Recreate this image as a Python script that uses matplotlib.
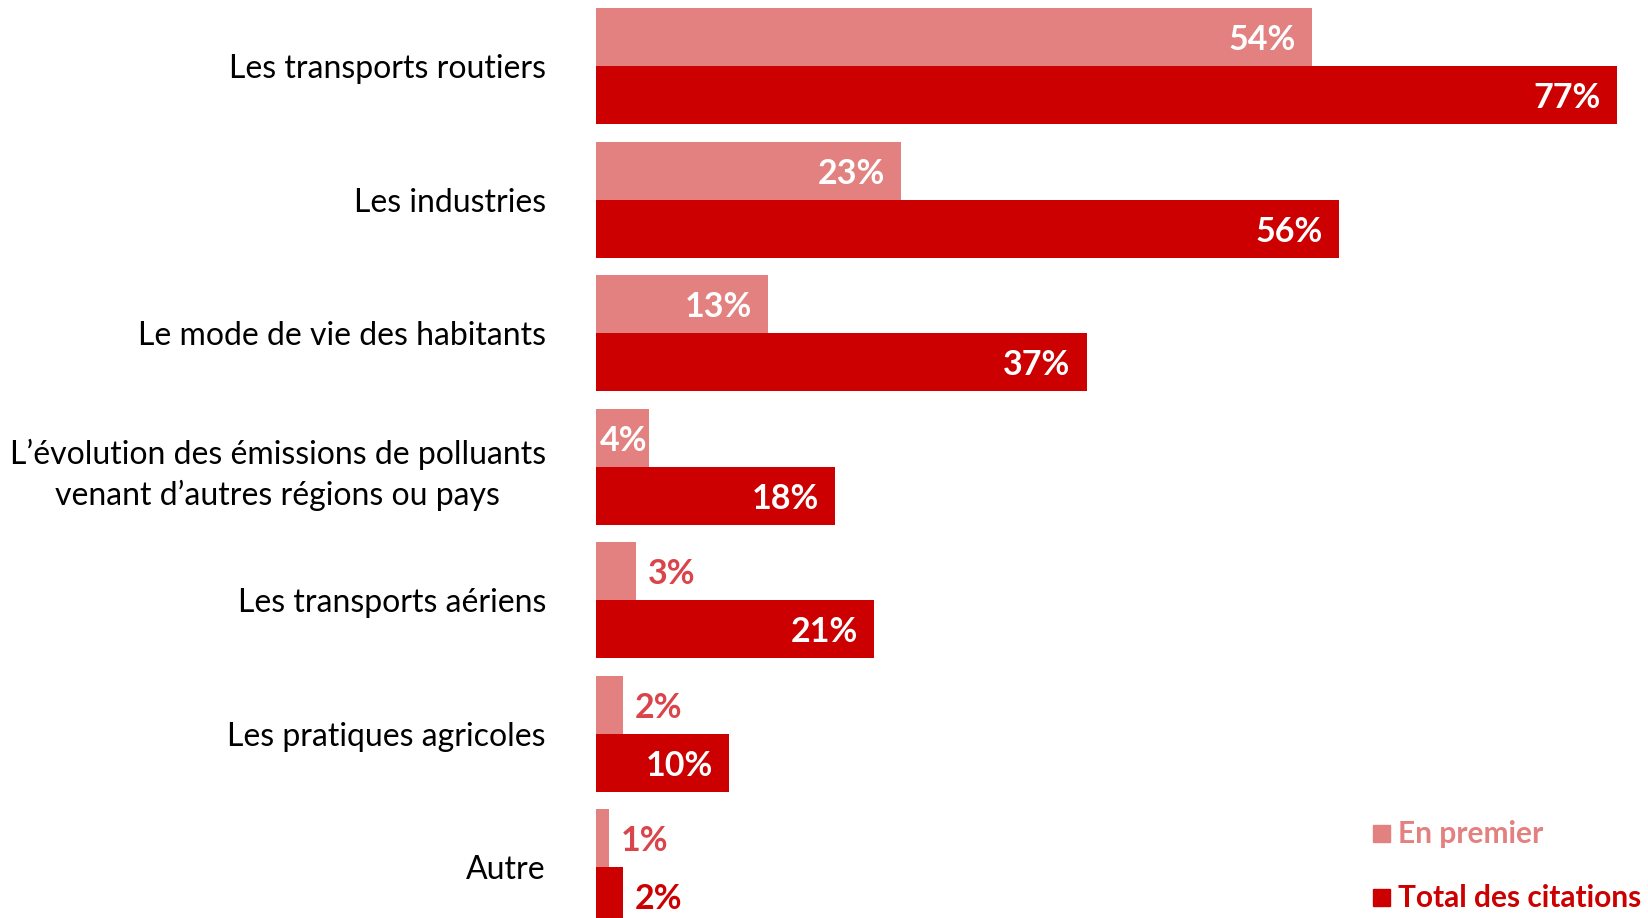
import matplotlib.pyplot as plt
from matplotlib.patches import Rectangle
from matplotlib.transforms import offset_copy

# data
categories = [
    "Les transports routiers",
    "Les industries",
    "Le mode de vie des habitants",
    "L\u2019\u00e9volution des \u00e9missions de polluants\nvenant d\u2019autres r\u00e9gions ou pays",
    "Les transports a\u00e9riens",
    "Les pratiques agricoles",
    "Autre",
]
en_premier = [54, 23, 13, 4, 3, 2, 1]
total_citations = [77, 56, 37, 18, 21, 10, 2]
series_names = ["En premier", "Total des citations"]

LIGHT = "#E38080"
DARK = "#CC0000"
LIGHT_TXT = "#D9454A"

plt.rcParams['font.family'] = ['Lato', 'DejaVu Sans']

W, H = 1649, 918
fig = plt.figure(figsize=(W / 100, H / 100), dpi=100)

x0 = 596          # left edge of the bars in pixels
px_per_pct = 13.26
group_px = 133.5
bar_px = 58
first_center = 66.4

ax = fig.add_axes([x0 / W, 0, 1 - x0 / W, 1])
ax.set_xlim(0, (W - x0) / px_per_pct)
y_top = -first_center / group_px
y_bot = (H - first_center) / group_px
ax.set_ylim(y_bot, y_top)

h = bar_px / group_px
idx = list(range(len(categories)))
ax.barh([i - h / 2 for i in idx], en_premier, height=h, color=LIGHT, linewidth=0)
ax.barh([i + h / 2 for i in idx], total_citations, height=h, color=DARK, linewidth=0)

# value labels, nudged down a little to sit like the original
tr = offset_copy(ax.transData, fig=fig, x=0, y=-3, units='dots')
pad = 16 / px_per_pct
for i in idx:
    for v, yy, col in ((en_premier[i], i - h / 2, LIGHT_TXT), (total_citations[i], i + h / 2, DARK)):
        lab = f"{v}%"
        if v >= 8:
            ax.text(v - pad, yy, lab, ha='right', va='center', color='white',
                    fontsize=24.5, fontweight='bold', transform=tr)
        elif v >= 4:
            ax.text(4 / px_per_pct, yy, lab, ha='left', va='center', color='white',
                    fontsize=24.5, fontweight='bold', transform=tr)
        else:
            ax.text(v + 12 / px_per_pct, yy, lab, ha='left', va='center', color=col,
                    fontsize=24.5, fontweight='bold', transform=tr)

ax.set_yticks(idx)
ax.set_yticklabels(categories, fontsize=23, color='black', ha='right',
                   multialignment='center', linespacing=1.4)
ax.tick_params(axis='y', length=0, pad=36)
ax.set_xticks([])
for s in ax.spines.values():
    s.set_visible(False)

# legend
for k, (name, col) in enumerate(zip(series_names, [LIGHT, DARK])):
    yc = H - (834 + 64 * k)
    fig.patches.append(Rectangle((1373 / W, (yc - 8) / H), 17 / W, 17 / H,
                                 transform=fig.transFigure, color=col))
    fig.text(1398 / W, yc / H, name, color=col, fontsize=21.5, fontweight='bold',
             ha='left', va='center')

fig.savefig("out.png", dpi=100)
